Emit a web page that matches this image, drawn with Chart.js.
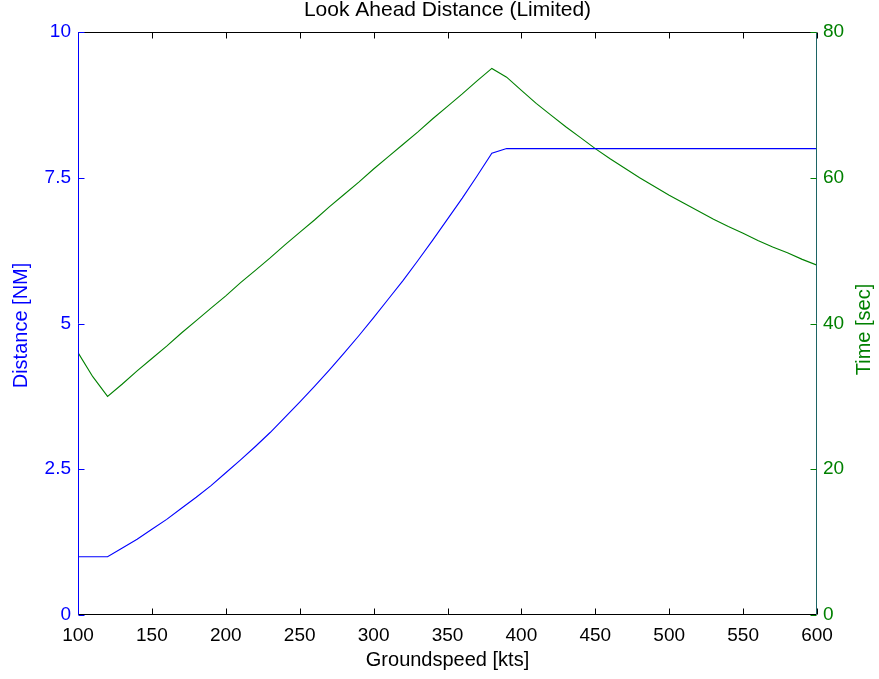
<!DOCTYPE html>
<html>
<head>
<meta charset="utf-8">
<title>Look Ahead Distance (Limited)</title>
<script src="https://cdn.jsdelivr.net/npm/chart.js@4/dist/chart.umd.min.js"></script>
<style>
    html, body { margin: 0; padding: 0; background: #fff; }
    #wrap { width: 879px; height: 679px; }
</style>
</head>
<body>
<div id="wrap"><canvas id="lookAhead" width="879" height="679"></canvas></div>
<script>
// Look Ahead Distance chart - plotyy style (distance left, time right)

const speeds = [100, 110, 120, 130, 140, 150, 160, 170, 180, 190,
    200, 210, 220, 230, 240, 250, 260, 270, 280, 290,
    300, 310, 320, 330, 340, 350, 360, 370, 380, 390,
    400, 410, 420, 430, 440, 450, 460, 470, 480, 490,
    500, 510, 520, 530, 540, 550, 560, 570, 580, 590, 600];

// distance [NM]
const distance = [1.00, 1.00, 1.00, 1.15, 1.30, 1.47, 1.64, 1.83, 2.02, 2.22,
    2.44, 2.66, 2.89, 3.13, 3.39, 3.65, 3.92, 4.20, 4.49, 4.79,
    5.10, 5.42, 5.74, 6.08, 6.43, 6.79, 7.15, 7.53, 7.92, 8.00,
    8.00, 8.00, 8.00, 8.00, 8.00, 8.00, 8.00, 8.00, 8.00, 8.00,
    8.00, 8.00, 8.00, 8.00, 8.00, 8.00, 8.00, 8.00, 8.00, 8.00, 8.00];

// time [sec]
const timeSec = [36.0, 32.7, 30.0, 31.7, 33.5, 35.2, 36.9, 38.7, 40.4, 42.1,
    43.8, 45.6, 47.3, 49.0, 50.8, 52.5, 54.2, 56.0, 57.7, 59.4,
    61.2, 62.9, 64.6, 66.3, 68.1, 69.8, 71.5, 73.3, 75.0, 73.8,
    72.0, 70.2, 68.6, 67.0, 65.5, 64.0, 62.6, 61.3, 60.0, 58.8,
    57.6, 56.5, 55.4, 54.3, 53.3, 52.4, 51.4, 50.5, 49.7, 48.8, 48.0];

const xTicks = [100, 150, 200, 250, 300, 350, 400, 450, 500, 550, 600];
const distTicks = [0, 2.5, 5, 7.5, 10];
const timeTicks = [0, 20, 40, 60, 80];

const BLUE = "#0000ff";
const GREEN = "#008000";
const FONT = "'Liberation Sans', Arial, Helvetica, sans-serif";

// frame, inward tick marks and axis titles, matlab look
const framePlugin = {
    id: "frame",
    afterDatasetsDraw(chart) {
        const ctx = chart.ctx;
        const a = chart.chartArea;
        const xs = chart.scales.x;
        const yl = chart.scales.y;
        const yr = chart.scales.y1;
        const L = Math.round(a.left) + 0.5;
        const R = Math.round(a.right) - 0.5;
        const T = Math.round(a.top) + 0.5;
        const B = Math.round(a.bottom) - 0.5;
        const len = 6;

        ctx.save();
        ctx.lineWidth = 1;

        // top + bottom border and x ticks
        ctx.strokeStyle = "#000";
        ctx.beginPath();
        ctx.moveTo(L, T); ctx.lineTo(R, T);
        ctx.moveTo(L, B); ctx.lineTo(R, B);
        xTicks.forEach(v => {
            const px = Math.round(xs.getPixelForValue(v)) + 0.5;
            ctx.moveTo(px, B); ctx.lineTo(px, B - len);
            ctx.moveTo(px, T); ctx.lineTo(px, T + len);
        });
        ctx.stroke();

        // left axis (blue)
        ctx.strokeStyle = BLUE;
        ctx.beginPath();
        ctx.moveTo(L, T); ctx.lineTo(L, B);
        distTicks.forEach(v => {
            const py = Math.round(yl.getPixelForValue(v)) + 0.5;
            ctx.moveTo(L, py); ctx.lineTo(L + len, py);
        });
        ctx.stroke();

        // right axis (green over blue -> teal)
        ctx.strokeStyle = "#1c6464";
        ctx.beginPath();
        ctx.moveTo(R, T); ctx.lineTo(R, B);
        ctx.stroke();
        ctx.strokeStyle = GREEN;
        ctx.beginPath();
        timeTicks.forEach(v => {
            const py = Math.round(yr.getPixelForValue(v)) + 0.5;
            ctx.moveTo(R, py); ctx.lineTo(R - len, py);
        });
        ctx.stroke();

        // axis titles
        ctx.font = "20px " + FONT;
        ctx.textAlign = "center";
        ctx.textBaseline = "middle";
        ctx.fillStyle = "#000";
        ctx.fillText("Groundspeed [kts]", (a.left + a.right) / 2, 660);

        const midY = (a.top + a.bottom) / 2;
        ctx.fillStyle = BLUE;
        ctx.save();
        ctx.translate(21, midY + 2);
        ctx.rotate(-Math.PI / 2);
        ctx.fillText("Distance [NM]", 0, 0);
        ctx.restore();

        ctx.fillStyle = GREEN;
        ctx.save();
        ctx.translate(864, midY + 6);
        ctx.rotate(-Math.PI / 2);
        ctx.fillText("Time [sec]", 0, 0);
        ctx.restore();

        ctx.restore();
    }
};

const ctx = document.getElementById("lookAhead");

new Chart(ctx, {
    type: "line",
    data: {
        datasets: [{
            label: "Distance [NM]",
            data: speeds.map((s, i) => ({ x: s, y: distance[i] })),
            borderColor: BLUE,
            borderWidth: 1.1,
            pointRadius: 0,
            tension: 0,
            yAxisID: "y"
        }, {
            label: "Time [sec]",
            data: speeds.map((s, i) => ({ x: s, y: timeSec[i] })),
            borderColor: GREEN,
            borderWidth: 1.1,
            pointRadius: 0,
            tension: 0,
            yAxisID: "y1"
        }]
    },
    options: {
        responsive: false,
        animation: false,
        layout: { padding: 0 },
        plugins: {
            legend: { display: false },
            tooltip: { enabled: false },
            title: {
                display: true,
                text: "Look Ahead Distance (Limited)",
                fullSize: false,
                color: "#000",
                font: { family: FONT, size: 21, weight: "normal", lineHeight: 1 },
                padding: { top: 0, bottom: 11 }
            }
        },
        scales: {
            x: {
                type: "linear",
                min: 100,
                max: 600,
                afterBuildTicks: s => { s.ticks = xTicks.map(v => ({ value: v })); },
                afterFit: s => { s.height = 64; },
                grid: { display: false, drawTicks: false },
                border: { display: false },
                ticks: {
                    color: "#000",
                    padding: 9,
                    maxRotation: 0,
                    autoSkip: false,
                    font: { family: FONT, size: 19 },
                    callback: v => String(v)
                }
            },
            y: {
                position: "left",
                min: 0,
                max: 10,
                afterBuildTicks: s => { s.ticks = distTicks.map(v => ({ value: v })); },
                afterFit: s => { s.width = 78; },
                grid: { display: false, drawTicks: false },
                border: { display: false },
                ticks: {
                    color: BLUE,
                    padding: 7,
                    font: { family: FONT, size: 19 },
                    callback: v => String(v)
                }
            },
            y1: {
                position: "right",
                min: 0,
                max: 80,
                afterBuildTicks: s => { s.ticks = timeTicks.map(v => ({ value: v })); },
                afterFit: s => { s.width = 62; },
                grid: { display: false, drawTicks: false },
                border: { display: false },
                ticks: {
                    color: GREEN,
                    padding: 6,
                    font: { family: FONT, size: 19 },
                    callback: v => String(v)
                }
            }
        }
    },
    plugins: [framePlugin]
});
</script>
</body>
</html>
